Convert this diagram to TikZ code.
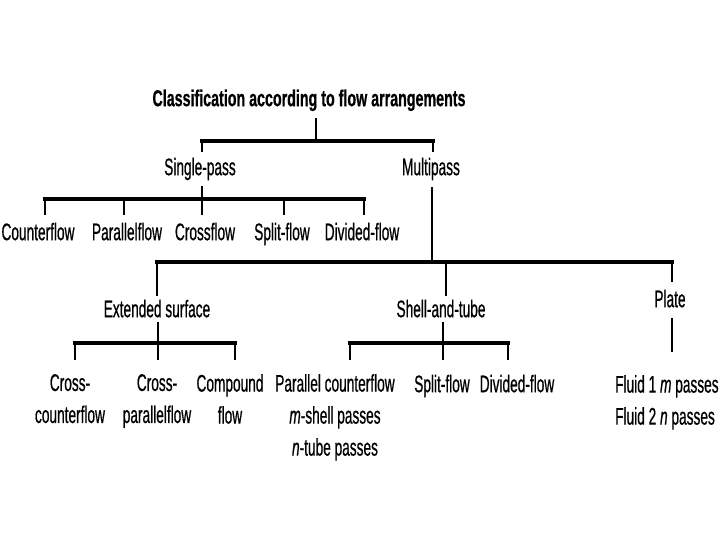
\documentclass[tikz,border=0pt]{standalone}
\usepackage{fontspec}
\setmainfont{Liberation Sans}[FakeStretch=0.57, FakeBold=0.6]
\newfontfamily\titlefont{Liberation Sans}[FakeStretch=0.62, FakeBold=0.6]
\begin{document}
\begin{tikzpicture}[x=1pt,y=-1pt,
  lbl/.style={inner sep=0pt, anchor=north, align=center,
    font=\fontsize{24}{32}\selectfont,
    execute at begin node={\rule[-5pt]{0pt}{23pt}}},
  hl/.style={line width=4pt, line cap=rect},
  vl/.style={line width=2.5pt}]
\fill[white] (0,0) rectangle (720,540);
\useasboundingbox (0,0) rectangle (720,540);

% nodes
\node[lbl, font=\titlefont\bfseries\fontsize{23}{28}\selectfont] (title) at (309,88) {Classification according to flow arrangements};
\node[lbl] (sp) at (200,157) {Single-pass};
\node[lbl] (mp) at (431,157) {Multipass};

\node[lbl] (cf)  at (38,222)  {Counterflow};
\node[lbl] (pf)  at (127,222) {Parallelflow};
\node[lbl] (crf) at (205,222) {Crossflow};
\node[lbl] (spf) at (282,222) {Split-flow};
\node[lbl] (dvf) at (362,222) {Divided-flow};

\node[lbl] (es) at (157,299) {Extended surface};
\node[lbl] (st) at (441,299) {Shell-and-tube};
\node[lbl] (pl) at (670,289) {Plate};

\node[lbl] (ccf) at (70,374)  {Cross-\\counterflow};
\node[lbl] (cpf) at (157,374) {Cross-\\parallelflow};
\node[lbl] (cmp) at (230,374) {Compound\\flow};
\node[lbl] (pcf) at (335,374) {Parallel counterflow\\\textit{m}-shell passes\\\textit{n}-tube passes};
\node[lbl] (stsf) at (442,374) {Split-flow};
\node[lbl] (stdf) at (517,374) {Divided-flow};
\node[lbl, anchor=north west, align=left] (fl) at (615,375) {Fluid 1 \textit{m} passes\\Fluid 2 \textit{n} passes};

% title bracket
\coordinate (t0) at (316,141);
\coordinate (tl) at (202,141);
\coordinate (tr) at (433,141);
\draw[vl, shorten <=7pt] (title.south -| t0) -- (t0);
\draw[hl] (tl) -- (tr);
\draw[vl, shorten >=5pt] (tl) -- (tl |- sp.north);
\draw[vl, shorten >=5pt] (tr) -- (tr |- mp.north);

% single-pass bracket
\coordinate (s1) at (45,199);
\coordinate (s2) at (124,199);
\coordinate (s3) at (202,199);
\coordinate (s4) at (284,199);
\coordinate (s5) at (364,199);
\draw[hl] (s1) -- (s5);
\draw[vl, shorten <=6pt, shorten >=7pt] (sp.south -| s3) -- (s3 |- crf.north);
\draw[vl, shorten >=7pt] (s1) -- (s1 |- cf.north);
\draw[vl, shorten >=7pt] (s2) -- (s2 |- pf.north);
\draw[vl, shorten >=7pt] (s4) -- (s4 |- spf.north);
\draw[vl, shorten >=7pt] (s5) -- (s5 |- dvf.north);

% multipass bracket
\coordinate (m0) at (432,262);
\coordinate (m1) at (157,262);
\coordinate (m2) at (446,262);
\coordinate (m3) at (672,262);
\draw[vl, shorten <=7pt] (mp.south -| m0) -- (m0);
\draw[hl] (m1) -- (m3);
\draw[vl, shorten >=3pt] (m1) -- (m1 |- es.north);
\draw[vl, shorten >=3pt] (m2) -- (m2 |- st.north);
\draw[vl, shorten >=7pt] (m3) -- (m3 |- pl.north);

% extended surface bracket
\coordinate (e1) at (75,343);
\coordinate (e2) at (158,343);
\coordinate (e3) at (235,343);
\draw[hl] (e1) -- (e3);
\draw[vl, shorten >=14pt] (es.south -| e2) -- (e2 |- cpf.north);
\draw[vl, shorten >=14pt] (e1) -- (e1 |- ccf.north);
\draw[vl, shorten >=14pt] (e3) -- (e3 |- cmp.north);

% shell-and-tube bracket
\coordinate (h1) at (350,343);
\coordinate (h2) at (443,343);
\coordinate (h3) at (508,343);
\draw[hl] (h1) -- (h3);
\draw[vl, shorten >=14pt] (st.south -| h2) -- (h2 |- stsf.north);
\draw[vl, shorten >=14pt] (h1) -- (h1 |- pcf.north);
\draw[vl, shorten >=14pt] (h3) -- (h3 |- stdf.north);

% plate
\draw[vl, shorten <=6pt, shorten >=23pt] (pl.south -| m3) -- (m3 |- fl.north);
\end{tikzpicture}
\end{document}
